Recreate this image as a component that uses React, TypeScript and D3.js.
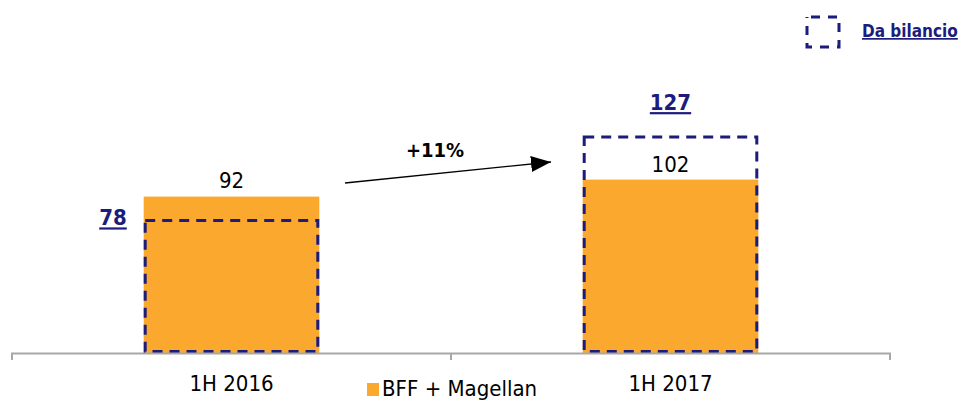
import React from "react";
import * as d3 from "d3";

const categories = ["1H 2016", "1H 2017"];
const bffValues = [92, 102];
const bilancioValues = [78, 127];
const growthLabel = "+11%";
const seriesName = "BFF + Magellan";
const bilancioName = "Da bilancio";

const W = 962;
const H = 401;
const ORANGE = "#FBA82F";
const NAVY = "#1C1C7C";
const FONT = "'DejaVu Sans Condensed', 'DejaVu Sans', sans-serif";

export default function App() {
  const x = d3.scaleBand<string>().domain(categories).range([12, 890]).paddingInner(0.6).paddingOuter(0.3);
  const y = d3.scaleLinear().domain([0, 127]).range([353, 353 - 127 * 1.7]);
  const bw = x.bandwidth();
  const c0 = (x(categories[0]) ?? 0) + bw / 2;
  const c1 = (x(categories[1]) ?? 0) + bw / 2;

  return (
    <svg width={W} height={H} style={{ position: "absolute", left: 0, top: 0, background: "#fff" }}>
      <defs>
        <marker id="ah2" viewBox="0 0 10 10" refX="10" refY="5" markerWidth="20" markerHeight="16" orient="auto" markerUnits="userSpaceOnUse" preserveAspectRatio="none">
          <path d="M0,0 L10,5 L0,10 z" fill="#000" />
        </marker>
      </defs>

      {/* orange bars */}
      {categories.map((c, i) => (
        <rect key={c} x={x(c)} y={y(bffValues[i])} width={bw} height={y(0) - y(bffValues[i])} fill={ORANGE} />
      ))}

      {/* dashed boxes */}
      {categories.map((c, i) => (
        <rect
          key={"d" + c}
          x={(x(c) ?? 0) + 1.5}
          y={y(bilancioValues[i])}
          width={bw - 3}
          height={y(0) - y(bilancioValues[i]) - 1.5}
          fill="none"
          stroke={NAVY}
          strokeWidth={3}
          strokeDasharray="10 7"
        />
      ))}

      {/* axis */}
      <path d={`M12,360 V353.5 H890 V360`} fill="none" stroke="#A8A8A8" strokeWidth={2} />
      <line x1={x.step() + 12} x2={x.step() + 12} y1={353.5} y2={360} stroke="#A8A8A8" strokeWidth={2} />

      {/* value labels */}
      <text x={c0} y={y(bffValues[0]) - 9} textAnchor="middle" fontFamily={FONT} fontSize={22} fill="#000">
        {bffValues[0]}
      </text>
      <text x={c1} y={y(bffValues[1]) - 8} textAnchor="middle" fontFamily={FONT} fontSize={22} fill="#000">
        {bffValues[1]}
      </text>
      <text x={113} y={y(bilancioValues[0]) + 5} textAnchor="middle" fontFamily={FONT} fontSize={22} fontWeight="bold" fill={NAVY} textDecoration="underline">
        {bilancioValues[0]}
      </text>
      <text x={c1} y={y(bilancioValues[1]) - 27} textAnchor="middle" fontFamily={FONT} fontSize={22} fontWeight="bold" fill={NAVY} textDecoration="underline">
        {bilancioValues[1]}
      </text>

      {/* growth arrow */}
      <line x1={345} y1={183} x2={551} y2={162} stroke="#000" strokeWidth={1.3} markerEnd="url(#ah2)" />
      <text x={435} y={157} textAnchor="middle" fontFamily={FONT} fontSize={20} fontWeight="bold" fill="#000">
        {growthLabel}
      </text>

      {/* category labels */}
      {categories.map((c) => (
        <text key={"l" + c} x={(x(c) ?? 0) + bw / 2} y={391} textAnchor="middle" fontFamily={FONT} fontSize={22} fill="#000">
          {c}
        </text>
      ))}

      {/* bottom legend */}
      <rect x={367} y={383} width={12} height={13} fill={ORANGE} />
      <text x={382} y={396} fontFamily={FONT} fontSize={22} fill="#000">
        {seriesName}
      </text>

      {/* top-right legend */}
      <rect x={807} y={17} width={32} height={30} fill="none" stroke={NAVY} strokeWidth={3} strokeDasharray="9 8" strokeDashoffset={-4} />
      <text x={862} y={37} fontFamily={FONT} fontSize={17} fontWeight="bold" fill={NAVY} textDecoration="underline">
        {bilancioName}
      </text>
    </svg>
  );
}
